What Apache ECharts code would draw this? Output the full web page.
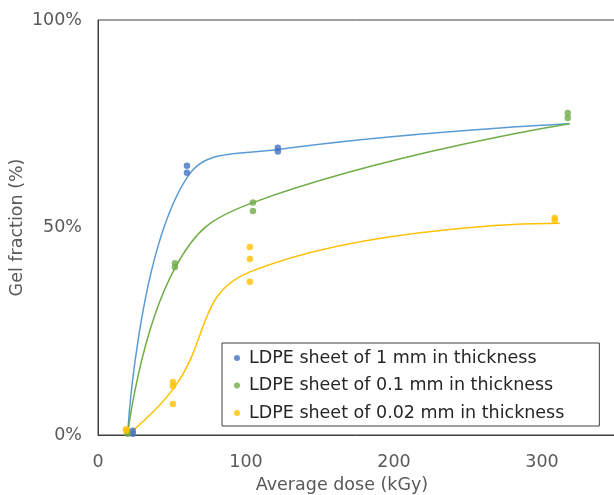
<!DOCTYPE html>
<html>
<head>
<meta charset="utf-8">
<script src="https://cdn.jsdelivr.net/npm/echarts@6/dist/echarts.min.js"></script>
<style>
  html, body { margin: 0; padding: 0; background: #fff; }
  #chart { width: 614px; height: 495px; }
</style>
</head>
<body>
<div id="chart"></div>
<script>
// measured points (dose kGy, gel fraction %)
var thickX = [23.5, 23.5, 60.1, 60.1, 121.5, 121.5];
var thickY = [1.0, 0.3, 64.9, 63.2, 69.2, 68.3];
var midX = [20, 20, 52, 52, 104.7, 104.7, 317.4, 317.4];
var midY = [0.8, 0.3, 41.4, 40.5, 56.0, 54.0, 77.6, 76.4];
var thinX = [19, 19, 50.6, 50.6, 50.6, 102.6, 102.6, 102.6, 308.6, 308.6];
var thinY = [1.4, 1.0, 12.8, 11.8, 7.5, 45.3, 42.4, 36.9, 52.3, 51.8];

// trend lines
var thickLineX = [20, 61, 121.5, 318.7];
var thickLineY = [0, 62.5, 68.8, 75];
var midLineX = [20, 52, 104.7, 318.7];
var midLineY = [0, 40.2, 56, 75];
var thinLineX = [20, 50.6, 102.6, 312];
var thinLineY = [0, 11, 39.3, 51];

var names = [
  'LDPE sheet of 1 mm in thickness',
  'LDPE sheet of 0.1 mm in thickness',
  'LDPE sheet of 0.02 mm in thickness'
];
var lastXTick = 300;

function pairs(xs, ys) {
  return xs.map(function (x, i) { return [x, ys[i]]; });
}

function dots(name, xs, ys, color) {
  return {
    name: name,
    type: 'scatter',
    data: pairs(xs, ys),
    symbol: 'circle',
    symbolSize: 6.5,
    itemStyle: { color: color },
    z: 3
  };
}

function trend(name, xs, ys, color) {
  return {
    name: name,
    type: 'line',
    data: pairs(xs, ys),
    smooth: 0.45,
    showSymbol: false,
    lineStyle: { color: color, width: 1.5 },
    z: 2
  };
}

var chart = echarts.init(document.getElementById('chart'));
chart.setOption({
  animation: false,
  textStyle: { fontFamily: 'DejaVu Sans' },
  grid: {
    left: 98, top: 20, width: 518, height: 415,
    outerBoundsMode: 'none',
    containLabel: false,
    show: true, borderColor: '#404040', borderWidth: 1
  },
  legend: {
    data: names,
    orient: 'vertical',
    left: 222, top: 343,
    backgroundColor: '#fff',
    borderColor: '#404040',
    borderWidth: 1,
    padding: [4.5, 35, 2.5, 12],
    itemGap: 6.5,
    itemWidth: 6, itemHeight: 6,
    icon: 'circle',
    textStyle: { fontSize: 17.5, color: '#262626', lineHeight: 21, padding: [0, 0, 0, 4] }
  },
  xAxis: {
    type: 'value',
    min: 0, max: 350, interval: 100,
    name: 'Average dose (kGy)',
    nameLocation: 'middle',
    nameGap: 41,
    nameTextStyle: { fontSize: 17.5, color: '#595959', padding: [0, 0, 0, -30] },
    axisLine: { show: true, lineStyle: { color: '#404040' } },
    axisTick: { show: false },
    splitLine: { show: false },
    axisLabel: {
      showMaxLabel: false,
      formatter: function (v) { return v > lastXTick ? '' : String(v); },
      fontSize: 17.5, color: '#595959', margin: 18
    }
  },
  yAxis: {
    type: 'value',
    min: 0, max: 100, interval: 50,
    name: 'Gel fraction (%)',
    nameLocation: 'middle',
    nameGap: 72,
    nameMoveOverlap: false,
    nameTextStyle: { fontSize: 17.5, color: '#595959' },
    axisLine: { show: true, lineStyle: { color: '#404040' } },
    axisTick: { show: false },
    splitLine: { show: false },
    axisLabel: { formatter: '{value}%', fontSize: 17.5, color: '#595959', margin: 16 }
  },
  series: [
    trend('fit1', thickLineX, thickLineY, '#5B9BD5'),
    trend('fit2', midLineX, midLineY, '#70AD47'),
    trend('fit3', thinLineX, thinLineY, '#FFC000'),
    dots(names[0], thickX, thickY, '#4472C4'),
    dots(names[1], midX, midY, '#70AD47'),
    dots(names[2], thinX, thinY, '#FFC000')
  ]
});
</script>
</body>
</html>
